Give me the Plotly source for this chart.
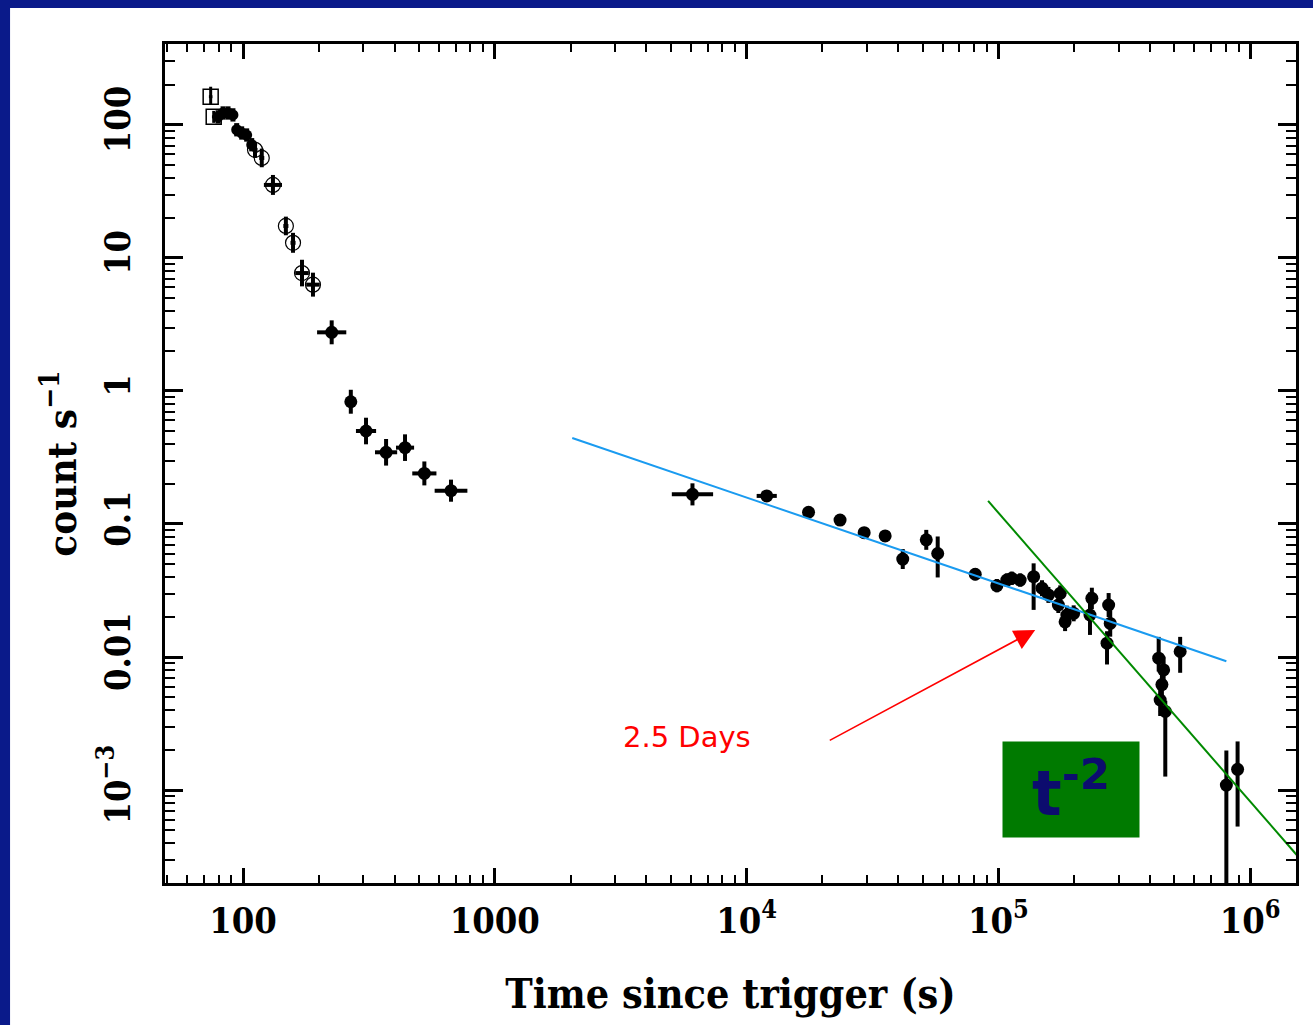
import numpy as np
import plotly.graph_objects as go

# ---------------------------------------------------------------
# X-ray light curve: count rate vs time since the trigger
# Errors are given as half-widths in dex (log10 units).
# ---------------------------------------------------------------

# Windowed-timing mode, first two bins (open squares)
wt_sq_time = [74.4, 76.5]
wt_sq_rate = [163.0, 115.0]
wt_sq_tdex = [0.007, 0.007]
wt_sq_up = [0.075, 0.045]
wt_sq_dn = [0.06, 0.045]

# Windowed-timing mode, dense early bins (filled)
wt_fill_time = [79.6, 83.3, 87.2, 91.2, 94.4, 98.8, 103.4, 108.3]
wt_fill_rate = [115.0, 123.0, 123.0, 119.0, 92.0, 87.0, 84.0, 71.0]
wt_fill_tdex = [0.009] * 8
wt_fill_up = [0.05] * 8
wt_fill_dn = [0.05] * 8

# Windowed-timing mode, steep decline (open circles)
wt_circ_time = [111.6, 118.7, 131.5, 148.0, 158.0, 171.5, 189.6]
wt_circ_rate = [65.0, 56.5, 35.4, 17.4, 13.0, 7.7, 6.3]
wt_circ_tdex = [0.01, 0.01, 0.036, 0.01, 0.01, 0.027, 0.027]
wt_circ_up = [0.06, 0.07, 0.075, 0.07, 0.075, 0.1, 0.09]
wt_circ_dn = [0.06, 0.07, 0.075, 0.07, 0.075, 0.1, 0.09]

# Photon-counting mode, first orbit
pc_early_time = [225.0, 268.0, 308.0, 370.0, 440.0, 525.0, 670.0]
pc_early_rate = [2.76, 0.83, 0.50, 0.346, 0.375, 0.24, 0.178]
pc_early_tdex = [0.058, 0.016, 0.04, 0.044, 0.036, 0.048, 0.065]
pc_early_up = [0.09, 0.09, 0.1, 0.1, 0.1, 0.09, 0.083]
pc_early_dn = [0.09, 0.09, 0.1, 0.1, 0.1, 0.09, 0.083]

# Photon-counting mode, later orbits
pc_late_time = [6095, 12020, 17620, 23500, 29300, 35500, 41700, 51700, 57400,
                80900, 98600, 108000, 113000, 122000, 138000, 149000, 158000,
                176000, 173000, 187000, 199000, 184000, 235000, 231000, 274000,
                278000, 270000, 433000, 453000, 446000, 439000, 460000, 527000,
                804000, 891000]
pc_late_rate = [0.167, 0.1626, 0.1225, 0.107, 0.086, 0.0813, 0.0545, 0.076, 0.060,
                0.0419, 0.0344, 0.0379, 0.0391, 0.0379, 0.0402, 0.0329, 0.0293,
                0.0301, 0.0246, 0.0207, 0.0213, 0.0184, 0.0276, 0.0207, 0.0246,
                0.0179, 0.0127, 0.0098, 0.0080, 0.0062, 0.00475, 0.0039, 0.011,
                0.00109, 0.00143]
pc_late_tdex = [0.082, 0.04, 0.016, 0.016, 0.012, 0.012, 0.01, 0.01, 0.01,
                0.015, 0.012, 0.012, 0.012, 0.012, 0.012, 0.012, 0.012,
                0.012, 0.012, 0.012, 0.012, 0.012, 0.012, 0.012, 0.012,
                0.012, 0.012, 0.012, 0.012, 0.012, 0.012, 0.012, 0.012,
                0.012, 0.012]
pc_late_up = [0.083, 0.04, 0.04, 0.04, 0.04, 0.045, 0.075, 0.075, 0.128,
              0.045, 0.05, 0.05, 0.05, 0.05, 0.10, 0.06, 0.06,
              0.06, 0.06, 0.07, 0.06, 0.07, 0.08, 0.17, 0.09,
              0.10, 0.09, 0.16, 0.10, 0.12, 0.12, 0.08, 0.11,
              0.26, 0.21]
pc_late_dn = [0.083, 0.04, 0.04, 0.04, 0.04, 0.045, 0.075, 0.075, 0.18,
              0.045, 0.05, 0.05, 0.05, 0.05, 0.25, 0.06, 0.06,
              0.06, 0.06, 0.07, 0.06, 0.07, 0.08, 0.15, 0.09,
              0.10, 0.16, 0.10, 0.10, 0.12, 0.12, 0.49, 0.16,
              1.0, 0.43]

# Power-law fits
shallow_time = [2030, 804000]
shallow_rate = [0.443, 0.0093]
steep_time = [91000, 1600000]
steep_rate = [0.149, 0.000295]

# Annotation anchors
break_time, break_rate = 140000, 0.01596
label_time, label_rate = 21100, 0.00233
days_text_time, days_text_rate = 5810, 0.0025
index_time, index_rate = 194500, 0.00101

# Axis ticks
x_tickvals = [100, 1000, 1e4, 1e5, 1e6]
x_ticktext = ["100", "1000", "10<sup>4</sup>", "10<sup>5</sup>", "10<sup>6</sup>"]
y_tickvals = [100, 10, 1, 0.1, 0.01, 0.001]
y_ticktext = ["100", "10", "1", "0.1", "0.01", "10<sup>\u22123</sup>"]

x_range = [49, 1.52e6]
y_range = [2.0e-4, 406]

SERIF = "DejaVu Serif Condensed, DejaVu Serif, serif"


def minor_ticks(lo, hi):
    vals = []
    for e in range(int(np.floor(np.log10(lo))), int(np.ceil(np.log10(hi))) + 1):
        for m in range(2, 10):
            v = m * 10.0 ** e
            if lo <= v <= hi:
                vals.append(v)
    return vals


def errs(vals, up, dn):
    v = np.asarray(vals, float)
    return (v * (10 ** np.asarray(up) - 1)).tolist(), (v * (1 - 10 ** -np.asarray(dn))).tolist()


def add_points(fig, t, r, tdex, up, dn, symbol, size, bar_w, line_w=0):
    xp, xm = errs(t, tdex, tdex)
    yp, ym = errs(r, up, dn)
    fig.add_trace(go.Scatter(
        x=t, y=r, mode="markers",
        marker=dict(symbol=symbol, size=size, color="black",
                    line=dict(color="black", width=line_w)),
        error_x=dict(type="data", symmetric=False, array=xp, arrayminus=xm,
                     thickness=bar_w, width=0, color="black"),
        error_y=dict(type="data", symmetric=False, array=yp, arrayminus=ym,
                     thickness=bar_w, width=0, color="black"),
        hoverinfo="skip",
    ))


fig = go.Figure()
add_points(fig, wt_sq_time, wt_sq_rate, wt_sq_tdex, wt_sq_up, wt_sq_dn,
           "square-open", 15, 3, 1.5)
add_points(fig, wt_fill_time, wt_fill_rate, wt_fill_tdex, wt_fill_up, wt_fill_dn,
           "circle", 11, 5)
add_points(fig, wt_circ_time, wt_circ_rate, wt_circ_tdex, wt_circ_up, wt_circ_dn,
           "circle-open", 15, 4, 1.2)
add_points(fig, pc_early_time, pc_early_rate, pc_early_tdex, pc_early_up, pc_early_dn,
           "circle", 13, 4)
add_points(fig, pc_late_time, pc_late_rate, pc_late_tdex, pc_late_up, pc_late_dn,
           "circle", 13, 4)

fig.add_trace(go.Scatter(x=shallow_time, y=shallow_rate, mode="lines",
                         line=dict(color="#1a9bf0", width=2), hoverinfo="skip"))
fig.add_trace(go.Scatter(x=steep_time, y=steep_rate, mode="lines",
                         line=dict(color="#008a00", width=2), hoverinfo="skip"))

# Arrow pointing at the break
fig.add_annotation(
    x=np.log10(break_time), y=np.log10(break_rate),
    ax=np.log10(label_time), ay=np.log10(label_rate),
    xref="x", yref="y", axref="x", ayref="y",
    text="", showarrow=True, arrowhead=2, arrowsize=2.6, arrowwidth=1.6,
    arrowcolor="#ff0000",
)
fig.add_annotation(
    x=np.log10(days_text_time), y=np.log10(days_text_rate),
    xref="x", yref="y", text="2.5 Days", showarrow=False,
    font=dict(family="DejaVu Sans", size=29, color="#ff0000"),
)
# Decay index label
fig.add_annotation(
    x=np.log10(index_time), y=np.log10(index_rate),
    xref="x", yref="y", text="<b>t<sup>-2</sup></b>", showarrow=False,
    width=136, height=95, bgcolor="#007a00", borderpad=0,
    font=dict(family="DejaVu Sans", size=62, color="#0c0c6e"),
)

# White page inside the blue frame
fig.add_shape(type="rect", xref="paper", yref="paper",
              x0=-0.137, x1=1.1, y0=-0.4, y1=1.043,
              fillcolor="white", line=dict(width=0), layer="below")

axis_common = dict(
    type="log", ticks="inside", tickwidth=2.5, tickcolor="black",
    showline=True, linewidth=3, linecolor="black", mirror="allticks",
    showgrid=False, zeroline=False, tickmode="array",
    tickfont=dict(family=SERIF, size=36, color="black", weight="bold"),
)

fig.update_layout(
    width=1313, height=1025,
    margin=dict(l=165, r=17, t=44, b=142),
    paper_bgcolor="#0a1a8a",
    plot_bgcolor="white",
    showlegend=False,
    font=dict(family=SERIF, color="black"),
    xaxis=dict(
        **axis_common,
        range=[np.log10(x_range[0]), np.log10(x_range[1])],
        tickvals=x_tickvals, ticktext=x_ticktext, ticklen=15,
        minor=dict(tickmode="array", tickvals=minor_ticks(*x_range),
                   ticks="inside", ticklen=8, tickwidth=2, tickcolor="black"),
        ticklabelstandoff=4,
        title=dict(text="Time since trigger (s)", standoff=40,
                   font=dict(family=SERIF, size=41, color="black", weight="bold")),
    ),
    yaxis=dict(
        **axis_common,
        range=[np.log10(y_range[0]), np.log10(y_range[1])],
        tickvals=y_tickvals, ticktext=y_ticktext, ticklen=18,
        tickangle=-90,
        minor=dict(tickmode="array", tickvals=minor_ticks(*y_range),
                   ticks="inside", ticklen=10, tickwidth=2, tickcolor="black"),
        ticklabelstandoff=18,
        title=dict(text="count s<sup>\u22121</sup>", standoff=2,
                   font=dict(family=SERIF, size=40, color="black", weight="bold")),
    ),
)

fig.write_html("out.html")
